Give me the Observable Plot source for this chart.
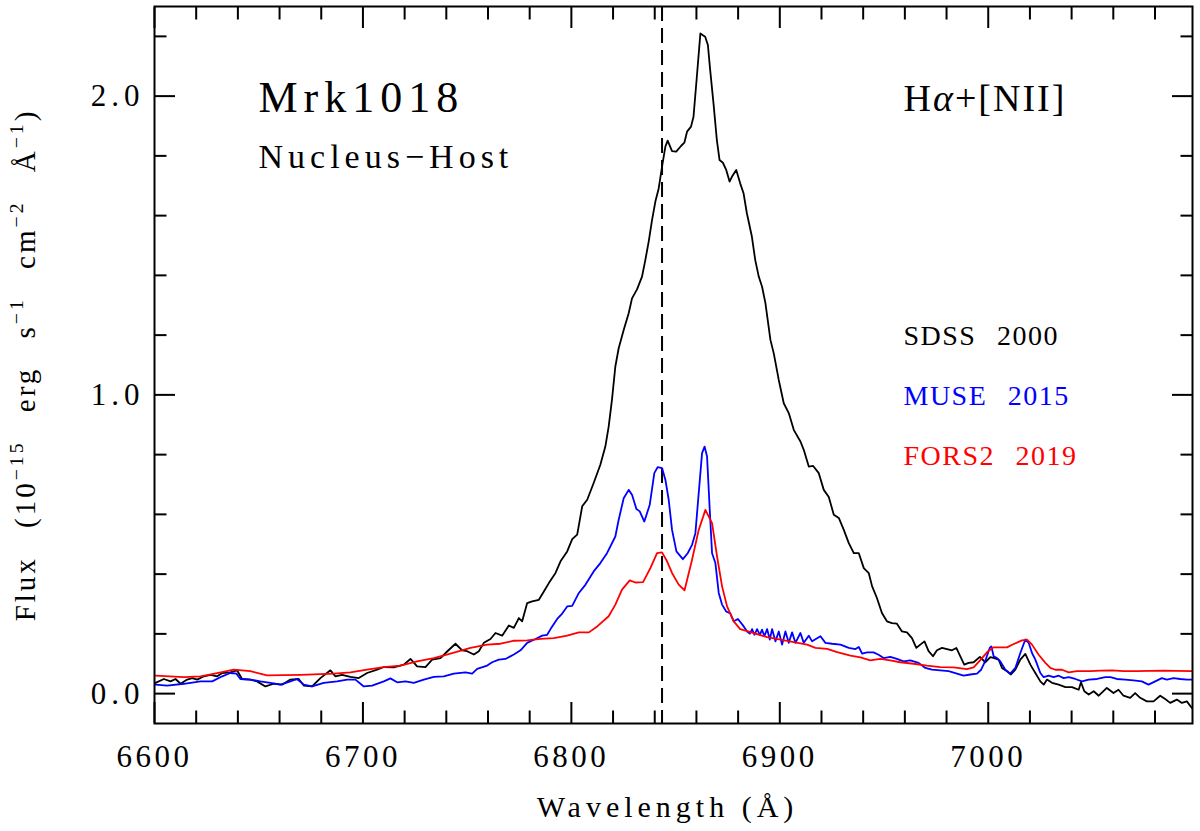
<!DOCTYPE html>
<html>
<head>
<meta charset="utf-8">
<script src="https://cdn.jsdelivr.net/npm/d3@7"></script>
<script src="https://cdn.jsdelivr.net/npm/@observablehq/plot@0.6"></script>
<style>
  body { margin: 0; background: #fff; }
  #chart svg { display: block; }
  g[aria-label="x-axis tick label"] text { letter-spacing: 3.5px; }
  g[aria-label="y-axis tick label"] text { letter-spacing: 5px; }
</style>
</head>
<body>
<div id="chart"></div>
<script>
// SDSS 2000 (black)
const sdssWave = [6600.5,6604.5,6607.7,6610.1,6612.5,6615.7,6618.1,6620.5,6623.7,6626.9,6630.1,6632.5,6636.4,6639.6,6642.0,6646.0,6649.2,6653.2,6657.2,6661.2,6665.2,6669.2,6671.6,6675.6,6679.6,6684.4,6686.8,6690.0,6694.0,6698.0,6702.0,6706.8,6710.0,6714.8,6719.6,6722.8,6726.0,6730.0,6733.2,6737.2,6740.4,6744.4,6747.6,
  6750.0,6753.2,6755.6,6758.0,6761.2,6763.6,6766.8,6770.0,6772.4,6774.8,6776.4,6778.8,6781.2,6784.4,6786.8,6789.2,6792.4,6794.8,6798.0,6800.4,6802.8,6805.2,6807.6,6810.7,6813.9,6816.3,6817.9,6819.5,
  6821.1,6822.7,6825.1,6827.5,6829.1,6831.5,6833.9,6835.5,6837.1,6838.7,6840.3,6841.9,6843.5,6845.1,6846.2,6848.3,6850.3,6852.6,6854.2,6855.5,6857.4,6858.6,6860.2,6861.9,6863.1,6864.2,6865.5,6866.6,6868.2,6869.8,6871.1,6872.7,6874.3,6875.9,6877.0,6879.1,6881.0,6882.6,6884.2,6886.6,6888.2,
  6889.9,6891.5,6893.1,6895.5,6897.1,6899.5,6901.9,6904.3,6906.7,6909.9,6911.5,6913.9,6916.0,6918.7,6921.1,6923.5,6925.9,6928.3,6930.7,6933.1,6935.5,6937.9,6940.3,6942.7,6944.3,6946.6,6949.0,6951.4,6953.8,6956.2,6958.6,6961.0,6963.4,6965.5,6967.4,6969.4,6971.4,6973.5,6975.4,6977.8,6980.2,6982.6,6984.7,6986.6,6988.5,6990.6,6993.0,
  6996.0,6998.6,7001.0,7002.9,7005.0,7006.6,7009.0,7010.9,7013.0,7015.4,7017.8,7020.2,7022.6,7025.0,7026.6,7028.2,7030.6,7033.8,7037.0,7040.2,7043.4,7044.5,7046.1,7048.2,7050.6,7053.0,7056.9,7060.1,7062.5,7064.9,7068.1,7070.5,7072.9,7076.1,7079.3,7082.5,7084.9,7087.3,7090.5,7092.9,7095.3,7097.7];
const sdssFlux = [0.036,0.049,0.041,0.049,0.033,0.047,0.052,0.047,0.058,0.063,0.058,0.069,0.071,0.078,0.049,0.047,0.041,0.024,0.033,0.030,0.047,0.049,0.027,0.024,0.052,0.078,0.058,0.063,0.056,0.052,0.069,0.080,0.089,0.088,0.097,0.116,0.091,0.089,0.114,0.119,0.141,0.167,0.145,
  0.142,0.131,0.142,0.170,0.183,0.203,0.194,0.228,0.220,0.253,0.242,0.303,0.309,0.314,0.342,0.370,0.404,0.443,0.476,0.517,0.532,0.627,0.649,0.705,0.766,0.827,0.894,0.985,
  1.095,1.156,1.217,1.273,1.323,1.353,1.396,1.452,1.513,1.585,1.647,1.691,1.764,1.831,1.851,1.816,1.814,1.833,1.844,1.881,1.898,1.931,2.065,2.210,2.204,2.199,2.171,2.087,1.975,1.853,1.786,1.777,1.753,1.714,1.730,1.753,1.708,1.675,1.608,1.530,1.452,
  1.396,1.362,1.307,1.184,1.139,1.050,0.972,0.939,0.883,0.844,0.816,0.760,0.762,0.738,0.682,0.658,0.599,0.588,0.548,0.504,0.470,0.470,0.420,0.403,0.359,0.320,0.270,0.242,0.236,0.234,0.208,0.205,0.186,0.153,0.164,0.175,0.142,0.125,0.145,0.153,0.149,0.145,0.153,0.125,0.097,0.103,0.105,
  0.123,0.105,0.122,0.119,0.114,0.086,0.075,0.064,0.080,0.114,0.133,0.097,0.069,0.041,0.030,0.047,0.036,0.030,0.022,0.022,0.013,0.038,0.008,-0.003,0.008,-0.007,0.019,0.002,0.013,-0.007,-0.014,0.002,-0.014,-0.026,-0.026,-0.007,-0.018,-0.031,-0.020,-0.031,-0.026,-0.048];

// MUSE 2015 (blue)
const museWave = [6600.5,6606.1,6614.1,6622.1,6627.7,6632.5,6636.4,6639.3,6641.2,6646.0,6650.8,6655.6,6660.4,6665.2,6668.4,6671.6,6675.6,6681.2,6687.6,6692.4,6696.4,6700.4,6704.4,6710.0,6713.2,6716.4,6720.4,6724.4,6729.2,6734.0,6738.8,6743.6,6749.2,
  6752.4,6754.8,6759.6,6762.0,6765.2,6768.4,6772.4,6775.6,6778.8,6782.8,6786.0,6788.4,6790.0,6793.2,6795.6,6798.0,6800.4,6803.6,6806.8,6810.7,
  6813.9,6817.1,6821.1,6822.7,6825.1,6827.5,6829.1,6831.2,6832.8,6835.0,6837.6,6839.8,6841.4,6843.5,6845.1,6846.7,6848.3,6850.4,6853.5,6855.8,6857.9,6859.5,6861.1,6862.7,6863.9,6865.1,6866.3,6867.5,6869.1,6870.7,6872.3,6874.3,6876.3,6877.9,6879.9,
  6882.7,6884.3,6885.6,6886.7,6887.8,6889.1,6890.4,6891.5,6892.6,6893.9,6895.2,6896.3,6897.9,6899.5,6901.1,6902.7,6904.3,6905.9,6907.5,6909.9,6911.5,6913.9,6915.5,6919.5,6921.9,6925.1,6929.1,6933.1,6936.3,6937.9,6939.5,6941.9,6945.0,6947.4,6949.8,6953.0,6956.2,6959.4,6962.6,6966.6,6969.8,6973.0,6977.0,6981.0,6985.0,6988.2,6991.4,6994.6,
  6996.6,6998.6,7000.7,7001.5,7002.6,7004.2,7005.8,7008.2,7010.6,7013.0,7015.4,7017.8,7019.4,7021.0,7022.6,7025.0,7026.6,7029.0,7031.4,7033.8,7036.2,7038.6,7041.8,7045.0,7048.2,7052.2,7056.2,7058.6,7061.7,7065.7,7069.7,7073.7,7076.9,7080.1,7083.3,7085.7,7088.9,7092.1,7095.3,7097.7];
const museFlux = [0.030,0.027,0.033,0.041,0.041,0.058,0.069,0.067,0.049,0.047,0.041,0.036,0.030,0.041,0.049,0.030,0.024,0.036,0.041,0.047,0.047,0.024,0.027,0.041,0.051,0.038,0.041,0.036,0.047,0.056,0.058,0.067,0.071,
  0.067,0.083,0.094,0.105,0.114,0.116,0.131,0.145,0.170,0.183,0.194,0.197,0.216,0.250,0.268,0.292,0.294,0.337,0.365,0.409,
  0.437,0.470,0.526,0.582,0.654,0.682,0.666,0.618,0.610,0.576,0.632,0.738,0.758,0.755,0.716,0.649,0.548,0.476,0.450,0.470,0.498,0.537,0.671,0.805,0.827,0.794,0.627,0.470,0.437,0.337,0.298,0.275,0.268,0.242,0.250,
  0.225,0.208,0.201,0.216,0.197,0.216,0.197,0.214,0.192,0.216,0.181,0.216,0.175,0.208,0.164,0.208,0.170,0.205,0.170,0.203,0.170,0.194,0.175,0.192,0.170,0.167,0.164,0.153,0.149,0.156,0.134,0.138,0.138,0.130,0.119,0.123,0.116,0.108,0.111,0.103,0.086,0.080,0.078,0.075,0.067,0.060,0.064,0.067,
  0.080,0.110,0.153,0.158,0.125,0.119,0.108,0.080,0.067,0.086,0.136,0.181,0.170,0.136,0.114,0.069,0.055,0.060,0.055,0.060,0.052,0.055,0.049,0.041,0.047,0.049,0.055,0.055,0.049,0.047,0.044,0.041,0.030,0.041,0.052,0.047,0.052,0.049,0.047,0.047];

// FORS2 2019 (red)
const forsWave = [6600.5,6614.1,6622.1,6630.1,6638.0,6646.0,6654.0,6670.0,6686.0,6694.0,6702.0,6710.0,6718.0,6726.0,6734.0,6742.0,6751.6,
  6759.6,6766.0,6772.4,6778.8,6785.2,6791.6,6798.0,6803.6,6808.4,6812.4,
  6817.9,6821.1,6824.3,6828.0,6830.7,6834.4,6837.9,6841.1,6843.5,6845.9,6848.3,6851.5,6854.3,6857.9,6861.1,6864.3,6867.5,6869.9,6872.3,6874.7,6877.9,6881.0,6886.0,
  6893.9,6900.3,6906.7,6913.1,6917.1,6922.7,6927.5,6933.9,6938.7,6943.4,6948.2,6953.0,6957.8,6964.2,6970.6,6977.0,6983.4,6989.8,6993.0,6996.2,
  6999.6,7002.6,7009.0,7012.2,7016.2,7018.6,7021.0,7024.2,7027.4,7029.8,7032.2,7035.4,7038.6,7042.6,7049.0,7053.8,7059.4,7064.9,7071.3,7077.7,7084.1,7090.5,7097.7];
const forsFlux = [0.060,0.055,0.058,0.069,0.080,0.075,0.061,0.063,0.067,0.071,0.080,0.089,0.094,0.108,0.119,0.134,0.153,
  0.164,0.167,0.177,0.178,0.183,0.186,0.194,0.205,0.205,0.225,
  0.259,0.298,0.348,0.379,0.372,0.373,0.420,0.470,0.473,0.443,0.404,0.365,0.346,0.448,0.548,0.615,0.571,0.459,0.359,0.292,0.242,0.216,0.206,
  0.189,0.181,0.172,0.164,0.153,0.150,0.139,0.127,0.121,0.111,0.116,0.111,0.105,0.100,0.094,0.089,0.088,0.082,0.088,0.112,
  0.140,0.155,0.155,0.166,0.178,0.181,0.164,0.130,0.103,0.086,0.080,0.080,0.071,0.075,0.075,0.077,0.078,0.075,0.075,0.076,0.077,0.076,0.075];

const hAlphaObs = 6843.5;

const xMajor = [6600, 6700, 6800, 6900, 7000];
const xMinor = [6620, 6640, 6660, 6680, 6720, 6740, 6760, 6780, 6820, 6840, 6860, 6880,
  6920, 6940, 6960, 6980, 7020, 7040, 7060, 7080];
const yMajor = [0, 1, 2];
const yMinor = [0.2, 0.4, 0.6, 0.8, 1.2, 1.4, 1.6, 1.8, 2.2];

const toRows = (wave, flux) => wave.map((w, i) => ({wave: w, flux: flux[i]}));
const sdss = toRows(sdssWave, sdssFlux);
const muse = toRows(museWave, museFlux);
const fors = toRows(forsWave, forsFlux);

const tickW = 2;
const note = (label, dx, dy, fontSize, fill = "#000") =>
  Plot.text([label], {frameAnchor: "top-left", dx, dy, textAnchor: "start", lineAnchor: "middle", fontSize, fill, text: d => d});

const chart = Plot.plot({
  width: 1200,
  height: 831,
  marginLeft: 154,
  marginRight: 8,
  marginTop: 6,
  marginBottom: 108,
  x: {domain: [6600, 7098]},
  y: {domain: [-0.1, 2.3]},
  style: {fontFamily: "'Liberation Serif', serif", background: "#fff", color: "#000"},
  marks: [
    Plot.ruleX([hAlphaObs], {stroke: "#000", strokeWidth: 2, strokeDasharray: "15,7"}),
    Plot.line(sdss, {x: "wave", y: "flux", stroke: "#000", strokeWidth: 1.8}),
    Plot.line(muse, {x: "wave", y: "flux", stroke: "#0000ff", strokeWidth: 1.8}),
    Plot.line(fors, {x: "wave", y: "flux", stroke: "#ff0000", strokeWidth: 1.8}),

    // inward ticks on all four sides
    Plot.axisX({anchor: "bottom", ticks: xMinor, tickSize: -12.5, tickFormat: () => "", label: null, strokeWidth: tickW}),
    Plot.axisX({anchor: "bottom", ticks: xMajor, tickSize: -21, tickFormat: () => "", label: null, strokeWidth: tickW}),
    Plot.axisX({anchor: "top", ticks: xMinor, tickSize: -12.5, tickFormat: () => "", label: null, strokeWidth: tickW}),
    Plot.axisX({anchor: "top", ticks: xMajor, tickSize: -21, tickFormat: () => "", label: null, strokeWidth: tickW}),
    Plot.axisY({anchor: "left", ticks: yMinor, tickSize: -12.5, tickFormat: () => "", label: null, strokeWidth: tickW}),
    Plot.axisY({anchor: "left", ticks: yMajor, tickSize: -21, tickFormat: () => "", label: null, strokeWidth: tickW}),
    Plot.axisY({anchor: "right", ticks: yMinor, tickSize: -12.5, tickFormat: () => "", label: null, strokeWidth: tickW}),
    Plot.axisY({anchor: "right", ticks: yMajor, tickSize: -21, tickFormat: () => "", label: null, strokeWidth: tickW}),

    // tick labels
    Plot.axisX({anchor: "bottom", ticks: xMajor, tickSize: 0, tickPadding: 21, tickFormat: d => String(d), label: null, fontSize: 31}),
    Plot.axisY({anchor: "left", ticks: yMajor, tickSize: 0, tickPadding: 10, tickFormat: d => d.toFixed(1), label: null, fontSize: 31}),

    Plot.frame({stroke: "#000", strokeWidth: 2}),

    // axis titles
    Plot.text(["Wavelength (Å)"], {frameAnchor: "bottom", dx: -6, dy: 84, lineAnchor: "middle", fontSize: 30, text: d => d}),
    Plot.text(["YLABEL"], {frameAnchor: "left", dx: -129, rotate: -90, textAnchor: "middle", lineAnchor: "middle", fontSize: 29, text: d => d}),

    // annotations
    note("Mrk1018", 104, 91, 44),
    note("Nucleus\u2212Host", 104, 151, 34),
    note("HALPHA", 749, 92, 38),
    note("SDSS 2000", 749, 330, 28, "#000"),
    note("MUSE 2015", 749, 390, 28, "#0000ff"),
    note("FORS2 2019", 749, 450, 28, "#ff0000")
  ]
});

d3.select("#chart").append(() => chart);

// rich text: superscripts, italic alpha, letter spacing
const svg = d3.select(chart);
svg.selectAll("text").each(function () {
  const t = d3.select(this);
  const s = t.text();
  if (s === "YLABEL") {
    const fs = 29, shift = 0.42 * fs;
    const parts = [["Flux (10", 0], ["\u221215", 1], [" erg s", 0], ["\u22121", 1], [" cm", 0], ["\u22122", 1], [" \u00c5", 0], ["\u22121", 1], [")", 0]];
    t.text(null).style("letter-spacing", "3px").style("word-spacing", "18px");
    let up = false;
    for (const [str, sup] of parts) {
      const ts = t.append("tspan").text(str);
      if (sup) { ts.attr("dy", -shift).attr("font-size", fs * 0.68); up = true; }
      else if (up) { ts.attr("dy", shift); up = false; }
    }
  } else if (s === "HALPHA") {
    t.text(null).style("letter-spacing", "2px");
    t.append("tspan").text("H");
    t.append("tspan").text("\u03b1").attr("font-style", "italic");
    t.append("tspan").text("+[NII]");
  } else if (s === "Wavelength (Å)") {
    t.style("letter-spacing", "5px");
  } else if (s === "Mrk1018") {
    t.style("letter-spacing", "6px");
  } else if (s === "Nucleus\u2212Host") {
    t.style("letter-spacing", "5px");
  } else if (s === "SDSS 2000" || s === "MUSE 2015" || s === "FORS2 2019") {
    t.style("letter-spacing", "1.5px").style("word-spacing", "12px");
  }
});
</script>
</body>
</html>
